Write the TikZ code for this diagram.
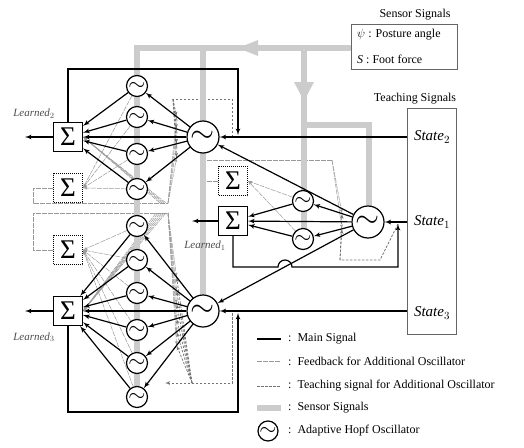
\documentclass[tikz,border=0pt]{standalone}
\usepackage{fontspec}
\setmainfont{Liberation Serif}
\usepackage{amsmath}
\usetikzlibrary{calc, arrows, backgrounds}

\definecolor{sensorgray}{gray}{0.80}
\definecolor{fbgray}{gray}{0.60}
\definecolor{teachgray}{gray}{0.45}

\newcommand{\wave}[1]{\scalebox{#1}{$\sim$}}

\tikzset{
  osc/.style={circle, draw, line width=1.2pt, fill=white, minimum size=21pt, inner sep=0pt},
  bigosc/.style={osc, minimum size=32pt},
  sumbox/.style={draw, line width=1.2pt, fill=white, minimum size=29pt, inner sep=0pt, font=\fontsize{27}{27}\selectfont},
  addbox/.style={sumbox, line width=1pt, densely dotted},
  main/.style={line width=1.2pt, ->},
  sensor/.style={line width=6pt, sensorgray},
  fback/.style={line width=0.5pt, fbgray, dash pattern=on 5pt off 1pt},
  teach/.style={line width=0.7pt, teachgray, dash pattern=on 2.5pt off 1.5pt},
  learned/.style={font=\fontsize{11}{12}\selectfont\itshape, text=black!70, inner sep=0pt},
  statetext/.style={font=\fontsize{15}{16}\selectfont},
  legtext/.style={anchor=west, inner sep=0pt, font=\fontsize{12}{14}\selectfont}
}

\begin{document}
\begin{tikzpicture}[x=1pt, y=-1pt, >=latex']
  \useasboundingbox (0,0) rectangle (524,447);

  % sensor signals (drawn first, behind everything)
  \draw[sensor] (137,405) -- (137,48) -- (351,48);
  \draw[sensor] (203,48) -- (203,300);
  \draw[sensor] (304,48) -- (304,245);
  \draw[sensor] (304,125) -- (369,125) -- (369,210);
  \fill[sensorgray] (238,48) -- (258,40) -- (258,56) -- cycle;
  \fill[sensorgray] (304,101) -- (294,82) -- (314,82) -- cycle;

  % boxes on the right
  \node[font=\fontsize{12}{14}\selectfont] (sentitle) at (415,15) {Sensor Signals};
  \node[draw=black!60, line width=0.8pt, minimum width=106pt, minimum height=45pt, anchor=north west] (senbox) at (351,24) {};
  \node[legtext] (psi) at (357,35) {$\psi$ : Posture angle};
  \node[legtext] (force) at (357,59) {\textit{S} : Foot force};
  \node[font=\fontsize{12}{14}\selectfont] (teachtitle) at (415,99) {Teaching Signals};
  \node[draw=black!60, line width=0.8pt, minimum width=49pt, minimum height=226pt, anchor=north west] (teachbox) at (407,108) {};
  \node[statetext] (st2) at (432,137) {$\mathit{State}_2$};
  \node[statetext] (st1) at (432,222) {$\mathit{State}_1$};
  \node[statetext] (st3) at (432,313) {$\mathit{State}_3$};
  \coordinate (t2) at (407,137);
  \coordinate (t1) at (407,222);
  \coordinate (t3) at (407,311);

  % upper group
  \node[bigosc] (U) at (203,137) {\wave{3.1}};
  \foreach \y [count=\i] in {86,117,154,189}
      \node[osc] (u\i) at (137,\y) {\wave{2.2}};
  \node[sumbox] (S2) at (68,137) {Σ};
  \node[addbox] (A2) at (68,188) {Σ};
  \node[learned] (ln2) at (34,114) {Learned$_2$};

  % middle group
  \node[bigosc] (M) at (368,222) {\wave{3.1}};
  \node[osc] (m1) at (303,201) {\wave{2.2}};
  \node[osc] (m2) at (303,239) {\wave{2.2}};
  \node[sumbox] (S1) at (233,221) {Σ};
  \node[addbox] (A1) at (233,181) {Σ};
  \node[learned] (ln1) at (205,246) {Learned$_1$};

  % lower group
  \node[bigosc] (L) at (203,311) {\wave{3.1}};
  \foreach \y [count=\i] in {226,260,293,330,363,397}
      \node[osc] (l\i) at (137,\y) {\wave{2.2}};
  \node[sumbox] (S3) at (68,311) {Σ};
  \node[addbox] (A3) at (68,250) {Σ};
  \node[learned] (ln3) at (34,337) {Learned$_3$};

  % feedback and teaching signals for the additional oscillators
  \begin{pgfonlayer}{background}
    \draw[sensor] (137,405) -- (137,48);
    % upper
    \draw[fback] (A2.west) -- (33,188) -- (33,203) -- (168,203);
    \draw[teach] (232,137) -- (232,99) -- (173,99);
    \foreach \i in {1,...,4} {
        \coordinate (pu\i) at ($(U)!0.4!(u\i)$);
        \draw[fback,->] (168,203) -- (pu\i);
        \draw[teach,->] (173,99) -- (pu\i);
        \draw[fback,->] (u\i) -- (A2.east);
        \draw[fback,->] ($(168,203)+(-\i*2,0)$) -- (S2.east);
    }
    % middle
    \draw[fback] (A1.west) -- (205,181) -- (205,160) -- (332,160);
    \draw[teach] (398,224) -- (380,260) -- (340,260);
    \foreach \i in {1,2} {
        \coordinate (pm\i) at ($(M)!0.4!(m\i)$);
        \draw[fback,->] (332,160) -- (pm\i);
        \draw[teach,->] (340,260) -- (pm\i);
        \draw[fback,->] (m\i) -- (A1.east);
    }
    % lower
    \draw[fback] (A3.west) -- (33,250) -- (33,213) -- (168,213);
    \draw[teach,->] (232,313) -- (232,383) -- (165,383);
    \foreach \i in {1,...,6} {
        \coordinate (pl\i) at ($(L)!0.4!(l\i)$);
        \draw[fback,->] (168,213) -- (pl\i);
        \draw[teach,->] (192,383) -- (pl\i);
        \draw[fback,->] (l\i) -- (A3.east);
        \draw[fback,->] ($(168,213)+(-\i*2,0)$) -- (S3.east);
    }
  \end{pgfonlayer}

  % main signals, upper
  \draw[main] (t2) -- (U);
  \foreach \i in {1,...,4} {
      \draw[main] (U) -- (u\i);
      \draw[main] (u\i) -- (S2);
  }
  \draw[main] (U) -- (S2);
  \coordinate (out2) at (25,137);
  \draw[main] (S2) -- (out2);
  \coordinate (top2) at (238,69);
  \coordinate (fb2) at (238,135);
  \draw[main] (S2.north) |- (top2) -- (fb2);

  % main signals, middle
  \draw[main] (t1) -- (M);
  \foreach \i in {1,2} {
      \draw[main] (M) -- (m\i);
      \draw[main] (m\i) -- (S1);
  }
  \draw[main] (M) -- (S1);
  \coordinate (out1) at (192,221);
  \draw[main] (S1) -- (out1);
  \coordinate (fb1) at (398,224);
  \draw[main] (S1.south) |- (278,267) arc[start angle=180, end angle=360, radius=7] -- (398,267) -- (fb1);
  \draw[main] (M) -- (U);
  \draw[main] (M) -- (L);

  % main signals, lower
  \draw[main] (t3) -- (L);
  \foreach \i in {1,...,6} {
      \draw[main] (L) -- (l\i);
      \draw[main] (l\i) -- (S3);
  }
  \draw[main] (L) -- (S3);
  \coordinate (out3) at (25,311);
  \draw[main] (S3) -- (out3);
  \coordinate (bot3) at (238,412);
  \coordinate (fb3) at (238,313);
  \draw[main] (S3.south) |- (bot3) -- (fb3);

  % legend
  \draw[line width=1.5pt] (257,339) -- (281,339);
  \draw[fback] (257,361) -- (281,361);
  \draw[teach] (257,386) -- (281,386);
  \draw[sensor] (257,408) -- (281,408);
  \node[osc, minimum size=20pt] (legosc) at (268,431) {\wave{2.2}};
  \node[legtext] at (288,339) {:\hspace{6pt}Main Signal};
  \node[legtext] at (288,361) {:\hspace{6pt}Feedback for Additional Oscillator};
  \node[legtext] at (288,386) {:\hspace{6pt}Teaching signal for Additional Oscillator};
  \node[legtext] at (288,408) {:\hspace{6pt}Sensor Signals};
  \node[legtext] at (288,431) {:\hspace{6pt}Adaptive Hopf Oscillator};
\end{tikzpicture}
\end{document}
